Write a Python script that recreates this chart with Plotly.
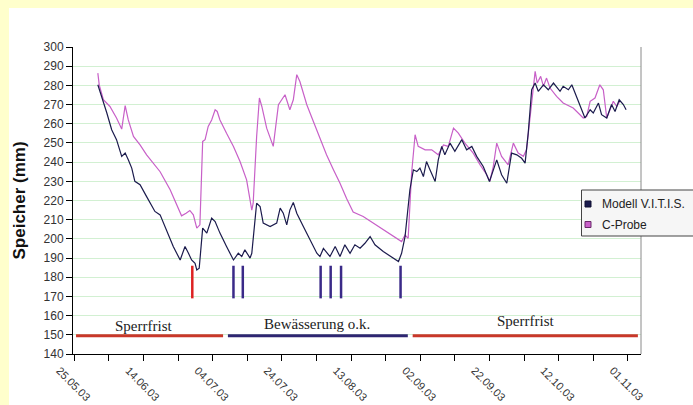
import plotly.graph_objects as go

# Day numbers are counted from 25.05.2003
tick_days = [0, 10, 20, 30, 40, 50, 60, 70, 80, 90, 100, 110, 120, 130, 140, 150, 160]
tick_text = ["25.05.03", "", "14.06.03", "", "04.07.03", "", "24.07.03", "",
             "13.08.03", "", "02.09.03", "", "22.09.03", "", "12.10.03", "", "01.11.03"]

# Modell V.I.T.I.S. (mm)
modell_day = [6.8, 7.9, 9.4, 10.8, 12.2, 13.7, 14.7, 15.6, 16.6, 17.5, 19.0, 20.9, 23.3, 24.8,
              26.7, 28.6, 30.6, 32.0, 33.0, 33.9, 34.9, 35.4, 36.1, 37.1, 38.3, 39.7, 40.7, 42.1,
              44.0, 46.0, 47.4, 48.4, 49.3, 50.8, 51.3, 52.7, 53.7, 54.6, 56.6, 58.5, 59.5, 60.4,
              61.4, 62.3, 63.3, 64.3, 66.2, 68.1, 70.1, 71.0, 72.0, 73.9, 75.4, 76.8, 78.2, 79.7,
              81.1, 82.6, 84.0, 85.5, 86.9, 89.3, 91.7, 93.7, 94.6, 95.6, 97.0, 98.0, 99.0, 99.9,
              100.9, 101.8, 102.8, 104.3, 105.2, 106.2, 107.1, 108.6, 110.0, 112.0, 113.4, 114.9,
              116.3, 118.2, 120.0, 121.1, 122.1, 123.5, 125.0, 126.4, 127.9, 129.3, 130.3, 131.2,
              132.2, 133.2, 134.1, 135.6, 137.0, 138.5, 140.4, 141.3, 142.8, 143.8, 145.7, 147.6,
              149.1, 150.0, 151.5, 152.4, 153.9, 155.3, 156.3, 157.5, 158.7, 159.5]
modell_val = [280.3, 274.3, 265.6, 256.9, 251.7, 243.0, 244.7, 241.2, 236.9, 230.0, 228.2, 222.0,
              214.3, 212.5, 204.7, 196.0, 189.0, 196.0, 192.5, 189.0, 187.3, 183.8, 184.7, 205.6,
              203.0, 210.8, 209.0, 203.0, 196.0, 189.0, 192.5, 190.8, 194.3, 190.0, 192.5, 218.6,
              216.9, 208.2, 206.4, 208.2, 216.0, 213.4, 207.3, 215.0, 219.0, 213.4, 206.4, 199.5,
              192.5, 190.8, 195.0, 190.8, 196.0, 190.8, 196.9, 192.5, 196.9, 195.1, 197.7, 201.2,
              196.9, 193.4, 190.8, 188.2, 192.5, 201.2, 225.6, 236.0, 235.1, 236.9, 232.5, 240.3,
              236.0, 229.9, 241.2, 248.2, 243.8, 249.9, 245.6, 251.7, 246.4, 248.2, 243.0, 237.7,
              229.9, 236.0, 241.2, 233.4, 229.0, 244.7, 243.8, 242.0, 239.5, 255.1, 277.7, 281.2,
              276.9, 280.3, 277.7, 281.2, 276.9, 279.5, 277.7, 280.3, 271.7, 263.0, 267.3, 265.6,
              270.8, 264.7, 263.0, 270.0, 266.4, 272.5, 270.0, 267.3]

# C-Probe (mm)
probe_day = [6.8, 7.2, 8.4, 10.3, 12.2, 13.7, 14.7, 15.6, 17.1, 19.0, 20.9, 23.3, 24.8, 27.7,
             29.6, 31.0, 32.3, 33.4, 34.4, 35.4, 36.3, 37.1, 37.8, 38.7, 39.7, 40.7, 41.3, 42.1,
             44.0, 46.0, 47.9, 49.8, 51.3, 51.7, 52.7, 53.5, 54.2, 55.6, 57.5, 59.0, 60.9, 62.3,
             63.3, 64.3, 65.2, 67.2, 69.1, 71.0, 72.9, 74.9, 76.8, 78.7, 80.6, 83.5, 86.4, 89.3,
             92.2, 94.6, 95.6, 96.5, 97.5, 98.5, 99.4, 101.4, 103.3, 105.2, 106.7, 108.1, 109.6,
             111.0, 112.9, 115.3, 117.3, 119.2, 120.1, 121.1, 122.1, 123.5, 125.4, 126.9, 128.3,
             129.8, 130.7, 131.7, 132.5, 133.2, 133.8, 134.8, 135.6, 136.5, 137.5, 139.4, 141.3,
             144.2, 147.1, 148.1, 149.1, 150.5, 151.9, 152.9, 153.9, 154.8, 155.8, 156.8, 157.7]
probe_val = [286.4, 280.3, 272.5, 269.0, 263.0, 257.2, 269.4, 262.0, 253.4, 249.0, 243.8, 238.6,
             235.0, 225.6, 217.7, 212.0, 213.4, 214.8, 212.5, 205.6, 207.3, 250.8, 251.7, 258.6,
             262.0, 267.3, 266.4, 262.0, 255.0, 248.2, 240.3, 230.8, 215.0, 218.6, 253.4, 273.4,
             269.0, 257.7, 248.2, 269.9, 275.1, 267.3, 272.5, 285.6, 282.0, 269.9, 261.2, 252.5,
             243.8, 236.0, 229.0, 221.0, 214.0, 211.7, 208.2, 204.7, 201.2, 198.6, 202.0, 200.3,
             234.3, 254.3, 248.2, 246.4, 246.4, 243.8, 249.0, 248.2, 257.7, 255.1, 249.9, 244.7,
             238.6, 233.4, 229.9, 237.7, 249.9, 243.0, 238.6, 249.9, 244.7, 243.0, 246.4, 262.0,
             277.7, 287.3, 281.2, 284.7, 279.5, 283.8, 278.6, 274.3, 270.8, 268.2, 263.0, 263.8,
             271.7, 273.4, 280.3, 277.7, 263.0, 267.3, 271.7, 269.0, 271.7]

# Irrigation events (day) and the height band of their marks (mm)
event_red_days = [34.1]
event_blue_days = [46.0, 48.7, 71.2, 74.1, 77.1, 94.3]
event_band = [169, 186]

# Periods: start day, end day, label, label day, label height, colour
period_level = 149.5
periods = [
    (0.5, 43.0, "Sperrfrist", 19.9, 154.8, "#c9372a"),
    (44.4, 96.4, "Bewässerung o.k.", 70.1, 155.6, "#2e2672"),
    (97.8, 162.9, "Sperrfrist", 130.3, 157.0, "#c9372a"),
]

NAVY = "#1b1b4d"
PINK = "#c860c8"

fig = go.Figure()

fig.add_trace(go.Scatter(x=probe_day, y=probe_val, mode="lines",
                         line=dict(color=PINK, width=1.2), name="C-Probe", showlegend=False))
fig.add_trace(go.Scatter(x=modell_day, y=modell_val, mode="lines",
                         line=dict(color=NAVY, width=1.2), name="Modell V.I.T.I.S.", showlegend=False))

def vlines(days):
    xs, ys = [], []
    for d in days:
        xs += [d, d, None]
        ys += [event_band[0], event_band[1], None]
    return xs, ys

xr, yr = vlines(event_red_days)
fig.add_trace(go.Scatter(x=xr, y=yr, mode="lines", line=dict(color="#dd2222", width=2.5),
                         showlegend=False, hoverinfo="skip"))
xb, yb = vlines(event_blue_days)
fig.add_trace(go.Scatter(x=xb, y=yb, mode="lines", line=dict(color="#3a2a88", width=2.5),
                         showlegend=False, hoverinfo="skip"))

for start, end, label, lx, ly, col in periods:
    fig.add_trace(go.Scatter(x=[start, end], y=[period_level, period_level], mode="lines",
                             line=dict(color=col, width=3), showlegend=False, hoverinfo="skip"))
    fig.add_annotation(x=lx, y=ly, xref="x", yref="y", text=label, showarrow=False,
                       xanchor="center", yanchor="middle",
                       font=dict(family="Liberation Serif, Times New Roman, serif", size=15, color="#222222"))

# pixel helpers for paper-positioned decorations
W, H = 693, 405
ML, MR, MT, MB = 73, 52, 47, 51
PW, PH = W - ML - MR, H - MT - MB

def px(xp):
    return (xp - ML) / PW

def py(yp):
    return (H - MB - yp) / PH

shapes = [
    # white chart panel on the yellow page
    dict(type="rect", xref="paper", yref="paper", x0=px(9), x1=px(720), y0=py(8), y1=py(440),
         fillcolor="white", line=dict(width=0), layer="below"),
    # right frame of the plot area
    dict(type="line", xref="paper", yref="paper", x0=1, x1=1, y0=0, y1=1,
         line=dict(color="#8a8a8a", width=1)),
    # legend box
    dict(type="rect", xref="paper", yref="paper", x0=px(581.5), x1=px(730), y0=py(236), y1=py(190),
         fillcolor="#f6f6f6", line=dict(color="#444444", width=1)),
    dict(type="rect", xref="paper", yref="paper", x0=px(585), x1=px(591), y0=py(207), y1=py(201),
         fillcolor=NAVY, line=dict(color="#111133", width=1)),
    dict(type="rect", xref="paper", yref="paper", x0=px(585), x1=px(591), y0=py(227.5), y1=py(221.5),
         fillcolor=PINK, line=dict(color="#6a2a6a", width=1)),
]

legend_font = dict(family="Liberation Sans, Arial, sans-serif", size=12, color="#222222")
fig.add_annotation(x=px(600), y=py(204), xref="paper", yref="paper", text="Modell V.I.T.I.S.",
                   showarrow=False, xanchor="left", yanchor="middle", font=legend_font)
fig.add_annotation(x=px(600), y=py(224.5), xref="paper", yref="paper", text="C-Probe",
                   showarrow=False, xanchor="left", yanchor="middle", font=legend_font)

# y-axis title
fig.add_annotation(x=px(19), y=0.5, xref="paper", yref="paper", text="<b>Speicher (mm)</b>",
                   showarrow=False, textangle=-90, xanchor="center", yanchor="middle",
                   font=dict(family="Liberation Sans, Arial, sans-serif", size=17, color="#111111"))

ytick_font = dict(family="Liberation Sans, Arial, sans-serif", size=12, color="#333333")
xtick_font = dict(family="Liberation Sans, Arial, sans-serif", size=11, color="#333333")

fig.update_layout(
    width=W, height=H,
    margin=dict(l=ML, r=MR, t=MT, b=MB, pad=0, autoexpand=False),
    paper_bgcolor="#FFFFCC",
    plot_bgcolor="white",
    shapes=shapes,
    showlegend=False,
    xaxis=dict(range=[-0.38, 163.8], tickmode="array", tickvals=tick_days, ticktext=tick_text,
               tickangle=45, ticks="outside", ticklen=6, tickcolor="black", tickwidth=1,
               showline=True, linecolor="black", linewidth=1, showgrid=False, zeroline=False,
               tickfont=xtick_font, ticklabelshift=-15, ticklabelstandoff=-1),
    yaxis=dict(range=[140, 300], dtick=10, tick0=140, ticks="outside", ticklen=6,
               tickcolor="black", tickwidth=1, showline=True, linecolor="black", linewidth=1,
               showgrid=True, gridcolor="#d2f0d2", gridwidth=1, zeroline=False,
               tickfont=ytick_font),
)

fig.write_html("out.html")
